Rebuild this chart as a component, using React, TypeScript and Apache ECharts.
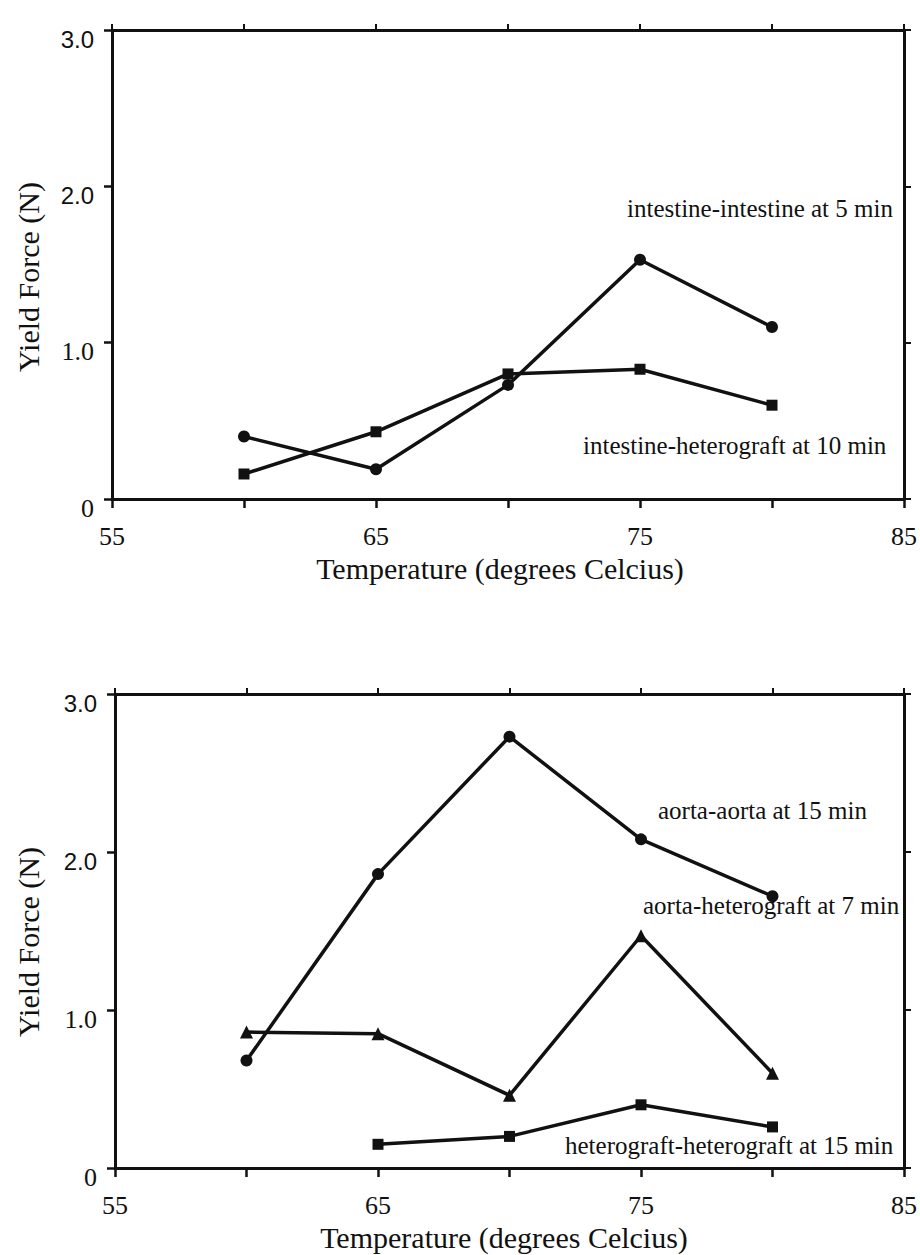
import React, { useEffect, useRef } from 'react';
import * as echarts from 'echarts';

// ---- data ----
const temps = [60, 65, 70, 75, 80];
const intestineIntestine5 = [0.4, 0.19, 0.73, 1.53, 1.1];
const intestineHetero10 = [0.16, 0.43, 0.8, 0.83, 0.6];
const aortaAorta15 = [0.68, 1.86, 2.73, 2.08, 1.72];
const aortaHetero7 = [0.86, 0.85, 0.46, 1.47, 0.6];
const heteroTemps = [65, 70, 75, 80];
const heteroHetero15 = [0.15, 0.2, 0.4, 0.26];

const xTickLabels = [55, 65, 75, 85];
const xTitle = 'Temperature (degrees Celcius)';
const yTitle = 'Yield Force (N)';
const annTop = ['intestine-intestine at 5 min', 'intestine-heterograft at 10 min'];
const annBottom = ['aorta-aorta at 15 min', 'aorta-heterograft at 7 min', 'heterograft-heterograft at 15 min'];

const INK = '#111';
const SERIF = '"Liberation Serif", "DejaVu Serif", serif';
const SANS = '"Liberation Sans", Arial, sans-serif';

const pairs = (xs: number[], ys: number[]) => xs.map((x, i) => [x, ys[i]]);

function xBottom(grid: number) {
  return {
    type: 'value', gridIndex: grid, position: 'bottom', min: 55, max: 85, interval: 5,
    axisLine: { show: true, onZero: false, lineStyle: { color: INK, width: 3 } },
    axisTick: { show: true, inside: false, length: 9, lineStyle: { color: INK, width: 2.5 } },
    axisLabel: {
      show: true, margin: 24, color: INK, fontFamily: SERIF, fontSize: 26,
      formatter: (v: number) => (xTickLabels.includes(v) ? String(v) : ''),
    },
    splitLine: { show: false },
  };
}
function xTop(grid: number) {
  return {
    type: 'value', gridIndex: grid, position: 'top', min: 55, max: 85, interval: 5,
    axisLine: { show: true, onZero: false, lineStyle: { color: INK, width: 3 } },
    axisTick: { show: true, inside: false, length: 6, lineStyle: { color: INK, width: 2 } },
    axisLabel: { show: false },
    splitLine: { show: false },
  };
}
function yLeft(grid: number) {
  return {
    type: 'value', gridIndex: grid, position: 'left', min: 0, max: 3, interval: 1,
    axisLine: { show: true, onZero: false, lineStyle: { color: INK, width: 3 } },
    axisTick: { show: true, inside: false, length: 8, lineStyle: { color: INK, width: 2.5 } },
    axisLabel: {
      show: true, margin: 18, color: INK, padding: [18, 0, 0, 0],
      formatter: (v: number) => (v === 0 ? '{r|0}' : v >= 2 ? `{s|${v.toFixed(1)}}` : `{r|${v.toFixed(1)}}`),
      rich: {
        s: { fontFamily: SANS, fontSize: 24, color: INK },
        r: { fontFamily: SERIF, fontSize: 26, color: INK },
      },
    },
    splitLine: { show: false },
  };
}
function yRight(grid: number) {
  return {
    type: 'value', gridIndex: grid, position: 'right', min: 0, max: 3, interval: 1,
    axisLine: { show: true, onZero: false, lineStyle: { color: INK, width: 3 } },
    axisTick: { show: true, inside: false, length: 7, lineStyle: { color: INK, width: 2 } },
    axisLabel: { show: false },
    splitLine: { show: false },
  };
}

function line(name: string, data: number[][], grid: number, symbol: string, size: number) {
  return {
    name, type: 'line', xAxisIndex: grid * 2, yAxisIndex: grid * 2, data,
    symbol, symbolSize: size, showSymbol: true,
    lineStyle: { color: INK, width: 3.5 },
    itemStyle: { color: INK },
    z: 3,
  };
}

function txt(text: string, x: number, y: number, size: number, align = 'left', rotation = 0) {
  return {
    type: 'text', x, y, rotation,
    style: { text, fill: INK, font: `${size}px ${SERIF}`, align, verticalAlign: 'middle' },
    z: 10,
  };
}

export default function App() {
  const ref = useRef<HTMLDivElement>(null);
  useEffect(() => {
    if (!ref.current) return;
    const chart = echarts.init(ref.current, null, { renderer: 'svg' });
    chart.setOption({
      animation: false,
      backgroundColor: '#fff',
      grid: [
        { left: 112, top: 30, width: 795, height: 469 },
        { left: 115, top: 694, width: 793, height: 474 },
      ],
      xAxis: [xBottom(0), xTop(0), xBottom(1), xTop(1)],
      yAxis: [yLeft(0), yRight(0), yLeft(1), yRight(1)],
      series: [
        line('intestine-intestine at 5 min', pairs(temps, intestineIntestine5), 0, 'circle', 12),
        line('intestine-heterograft at 10 min', pairs(temps, intestineHetero10), 0, 'rect', 11),
        line('aorta-aorta at 15 min', pairs(temps, aortaAorta15), 1, 'circle', 12),
        line('aorta-heterograft at 7 min', pairs(temps, aortaHetero7), 1, 'triangle', 13),
        line('heterograft-heterograft at 15 min', pairs(heteroTemps, heteroHetero15), 1, 'rect', 11),
      ],
      graphic: [
        txt(annTop[0], 627, 208, 25),
        txt(annTop[1], 583, 445, 25),
        txt(annBottom[0], 658, 810, 25),
        txt(annBottom[1], 643, 905, 25),
        txt(annBottom[2], 565, 1145, 25),
        txt(xTitle, 500, 568, 30, 'center'),
        txt(xTitle, 504, 1237, 30, 'center'),
        txt(yTitle, 28, 277, 30, 'center', Math.PI / 2),
        txt(yTitle, 28, 942, 30, 'center', Math.PI / 2),
      ],
    });
    return () => chart.dispose();
  }, []);
  return (
    <div
      ref={ref}
      style={{ position: 'absolute', left: 0, top: 0, width: 920, height: 1255, background: '#fff' }}
    />
  );
}
